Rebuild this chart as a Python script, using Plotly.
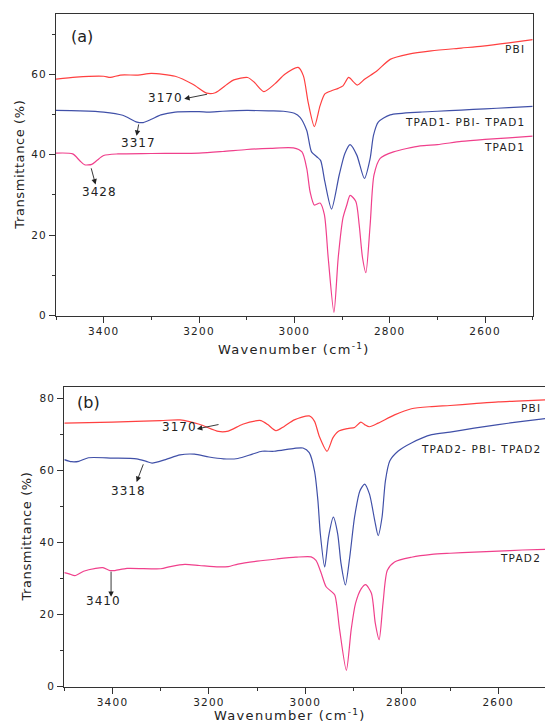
import plotly.graph_objects as go

# ---------------- data ----------------
# Panel (a)
a_pbi_wn = [3500, 3458, 3400, 3386, 3365, 3328, 3300, 3250, 3213, 3184, 3166, 3141, 3127, 3098, 3084, 3064, 3041, 3020, 2992, 2981, 2971, 2958, 2946, 2936, 2922, 2908, 2898, 2886, 2876, 2868, 2852, 2827, 2799, 2760, 2713, 2650, 2605, 2550, 2500]
a_pbi_t = [58.8, 59.3, 59.5, 59.2, 59.8, 59.8, 60.2, 59.5, 57.5, 55.3, 55.4, 57.5, 58.6, 59.2, 58.0, 55.7, 57.6, 60.0, 61.7, 59.6, 53.0, 47.0, 52.2, 55.1, 55.9, 56.5, 57.1, 59.2, 58.1, 57.3, 58.8, 60.8, 63.7, 65.0, 65.8, 66.5, 67.0, 67.8, 68.6]

a_tpb_wn = [3500, 3450, 3400, 3360, 3330, 3317, 3300, 3280, 3250, 3200, 3180, 3150, 3100, 3050, 3023, 3000, 2988, 2974, 2964, 2953, 2945, 2936, 2922, 2906, 2894, 2883, 2869, 2853, 2841, 2834, 2824, 2799, 2736, 2700, 2650, 2600, 2550, 2500]
a_tpb_t = [51.0, 50.9, 50.6, 49.8, 48.1, 48.0, 48.8, 49.9, 50.6, 50.7, 50.6, 50.8, 51.0, 50.9, 50.8, 50.3, 49.3, 46.0, 40.7, 39.5, 38.6, 33.3, 26.5, 34.9, 40.3, 42.5, 39.9, 34.1, 39.1, 44.8, 48.1, 49.9, 50.6, 50.8, 51.1, 51.4, 51.7, 52.0]

a_tpad_wn = [3500, 3465, 3450, 3440, 3425, 3415, 3400, 3370, 3300, 3200, 3150, 3100, 3050, 3002, 2984, 2974, 2967, 2958, 2946, 2937, 2929, 2917, 2908, 2898, 2890, 2883, 2871, 2864, 2857, 2850, 2841, 2833, 2820, 2792, 2736, 2700, 2650, 2600, 2550, 2500]
a_tpad_t = [40.4, 40.2, 38.5, 37.5, 37.6, 38.5, 39.8, 40.2, 40.3, 40.4, 40.8, 41.3, 41.6, 41.7, 40.7, 36.6, 30.8, 27.5, 28.0, 25.1, 14.4, 0.8, 14.4, 24.3, 27.5, 29.9, 28.4, 22.6, 14.4, 10.7, 22.6, 34.9, 39.1, 40.7, 42.2, 42.5, 43.3, 43.8, 44.2, 44.6]

# Panel (b)
b_pbi_wn = [3500, 3400, 3300, 3260, 3220, 3180, 3160, 3130, 3100, 3092, 3078, 3061, 3044, 3023, 2992, 2981, 2971, 2955, 2943, 2932, 2912, 2898, 2885, 2877, 2867, 2849, 2815, 2780, 2738, 2700, 2650, 2600, 2550, 2500]
b_pbi_t = [73.1, 73.4, 73.8, 74.0, 72.8, 70.8, 70.9, 72.8, 73.8, 73.8, 72.7, 71.0, 72.2, 74.0, 75.1, 73.6, 69.4, 65.3, 69.0, 70.8, 71.6, 71.9, 73.4, 72.7, 72.1, 73.1, 75.4, 77.1, 77.7, 78.0, 78.5, 79.0, 79.3, 79.6]

b_tpb_wn = [3500, 3485, 3470, 3450, 3400, 3350, 3330, 3318, 3290, 3260, 3230, 3200, 3170, 3140, 3110, 3090, 3065, 3023, 3005, 2992, 2981, 2974, 2969, 2960, 2952, 2942, 2933, 2926, 2917, 2908, 2898, 2887, 2877, 2867, 2856, 2849, 2841, 2834, 2825, 2808, 2780, 2738, 2700, 2650, 2600, 2550, 2500]
b_tpb_t = [63.0, 62.4, 62.5, 63.5, 63.4, 63.2, 62.5, 62.0, 63.0, 64.3, 64.5, 63.7, 63.2, 63.3, 64.5, 65.3, 65.3, 66.1, 66.2, 64.9, 59.8, 51.6, 42.4, 33.2, 41.5, 47.0, 42.4, 34.1, 28.2, 35.9, 47.0, 54.3, 56.2, 53.4, 46.0, 41.9, 47.0, 57.1, 62.6, 65.3, 67.6, 69.9, 70.6, 71.7, 72.7, 73.6, 74.4]

b_tpad_wn = [3500, 3490, 3478, 3460, 3435, 3420, 3405, 3395, 3370, 3300, 3280, 3250, 3220, 3180, 3160, 3140, 3100, 3060, 3020, 2988, 2978, 2968, 2957, 2947, 2939, 2929, 2915, 2905, 2896, 2884, 2875, 2863, 2855, 2847, 2839, 2830, 2815, 2780, 2738, 2700, 2650, 2600, 2550, 2500]
b_tpad_t = [31.6, 31.3, 30.8, 32.0, 32.8, 33.0, 32.2, 32.2, 32.8, 32.7, 33.3, 33.9, 33.6, 33.2, 33.3, 34.0, 34.8, 35.4, 35.9, 36.0, 35.0, 31.8, 27.7, 26.5, 25.4, 15.8, 4.5, 15.8, 23.1, 27.2, 28.3, 25.9, 17.6, 13.0, 23.1, 32.3, 34.6, 35.9, 36.7, 37.0, 37.3, 37.6, 37.9, 38.1]

series_names_a = ["PBI", "TPAD1- PBI- TPAD1", "TPAD1"]
series_names_b = ["PBI", "TPAD2- PBI- TPAD2", "TPAD2"]

x_tickvals = [3400, 3200, 3000, 2800, 2600]
a_y_tickvals = [0, 20, 40, 60]
b_y_tickvals = [0, 20, 40, 60, 80]

# peak labels: (text, label x, label y, arrow head x, head y, tail x, tail y)
a_peaks = [("3170", 3270, 54.1, 3231, 53.9, 3180, 55.1),
           ("3317", 3327, 43.0, 3331, 44.7, 3326, 47.9),
           ("3428", 3408, 30.7, 3417, 32.6, 3427, 37.0)]
b_peaks = [("3170", 3262, 72.0, 3225, 71.5, 3177, 72.8),
           ("3318", 3366, 54.4, 3350, 56.8, 3335, 62.1),
           ("3410", 3419, 23.7, 3403, 24.9, 3403, 32.3)]

# ---------------- style ----------------
RED = "#ff4040"
BLUE = "#4050a8"
PINK = "#f0408c"
AX = "#333333"
FONT = "DejaVu Sans"
W, H = 545, 728


def sp(t, ls=1.2):
    return f'<span style="letter-spacing:{ls}px">{t}</span>'


fig = go.Figure()
for wn, t, c in [(a_pbi_wn, a_pbi_t, RED), (a_tpb_wn, a_tpb_t, BLUE), (a_tpad_wn, a_tpad_t, PINK)]:
    fig.add_trace(go.Scatter(x=wn, y=t, mode="lines", line=dict(color=c, width=1.2, shape="spline", smoothing=0.7),
                             xaxis="x", yaxis="y", showlegend=False, hoverinfo="skip"))
for wn, t, c in [(b_pbi_wn, b_pbi_t, RED), (b_tpb_wn, b_tpb_t, BLUE), (b_tpad_wn, b_tpad_t, PINK)]:
    fig.add_trace(go.Scatter(x=wn, y=t, mode="lines", line=dict(color=c, width=1.2, shape="spline", smoothing=0.7),
                             xaxis="x2", yaxis="y2", showlegend=False, hoverinfo="skip"))

# plot-area pixel boxes
a_l, a_r, a_t, a_b = 56, 532.7, 14, 318.3
b_l, b_r, b_t, b_b = 64.3, 545, 390.7, 692.3

tickfont = dict(family=FONT, size=10.5, color="#222")
common_x = dict(showgrid=False, zeroline=False, showline=True, linecolor=AX, linewidth=1,
                ticks="outside", ticklen=6, tickcolor=AX, tickwidth=1, tickfont=tickfont,
                tickvals=x_tickvals, ticktext=[sp(str(v)) for v in x_tickvals],
                minor=dict(dtick=100, tick0=2500, ticks="outside", ticklen=3, tickcolor=AX))
common_y = dict(showgrid=False, zeroline=False, showline=True, linecolor=AX, linewidth=1,
                ticks="outside", ticklen=6, tickcolor=AX, tickwidth=1, tickfont=tickfont,
                minor=dict(dtick=10, tick0=0, ticks="outside", ticklen=3, tickcolor=AX))

fig.update_layout(
    width=W, height=H, margin=dict(l=0, r=0, t=0, b=0),
    paper_bgcolor="white", plot_bgcolor="white",
    xaxis=dict(common_x, domain=[a_l / W, a_r / W], range=[3500, 2500], anchor="y", mirror=True),
    yaxis=dict(common_y, domain=[1 - a_b / H, 1 - a_t / H], range=[0, 75], anchor="x", mirror=True,
               tickvals=a_y_tickvals, ticktext=[sp(str(v)) for v in a_y_tickvals]),
    xaxis2=dict(common_x, domain=[b_l / W, 1.0], range=[3500, 2503], anchor="y2", mirror=True),
    yaxis2=dict(common_y, domain=[1 - b_b / H, 1 - b_t / H], range=[0, 83], anchor="x2", mirror=False,
                tickvals=b_y_tickvals, ticktext=[sp(str(v)) for v in b_y_tickvals]),
)

ann = []
lab_font = dict(family=FONT, size=10.5, color="#222")
# panel letters
ann.append(dict(x=3446, y=69.4, xref="x", yref="y", text="(a)", showarrow=False,
                xanchor="center", yanchor="middle", font=dict(family=FONT, size=16, color="#222")))
ann.append(dict(x=3449, y=78.8, xref="x2", yref="y2", text="(b)", showarrow=False,
                xanchor="center", yanchor="middle", font=dict(family=FONT, size=16, color="#222")))
# series labels
for name, y in zip(series_names_a, [66.2, 48.2, 42.0]):
    ann.append(dict(x=2512, y=y, xref="x", yref="y", text=sp(name), showarrow=False,
                    xanchor="right", yanchor="middle", font=lab_font))
for name, y in zip(series_names_b, [77.2, 65.9, 35.6]):
    ann.append(dict(x=2507, y=y, xref="x2", yref="y2", text=sp(name), showarrow=False,
                    xanchor="right", yanchor="middle", font=lab_font))
# peak labels + arrows
for (xr, yr), peaks in [(("x", "y"), a_peaks), (("x2", "y2"), b_peaks)]:
    for txt, lx, ly, hx, hy, tx, ty in peaks:
        ann.append(dict(x=lx, y=ly, xref=xr, yref=yr, text=sp(txt, 1.0), showarrow=False,
                        xanchor="center", yanchor="middle", font=dict(family=FONT, size=12, color="#222")))
        ann.append(dict(x=hx, y=hy, xref=xr, yref=yr, ax=tx, ay=ty, axref=xr, ayref=yr, text="",
                        showarrow=True, arrowhead=2, arrowsize=1.2, arrowwidth=0.9, arrowcolor="#222"))

# axis titles
title_font = dict(family=FONT, size=13, color="#222")
xt = 'Wavenumber (cm<sup>-1</sup>)'
ann.append(dict(x=(a_l + a_r) / 2 / W, y=1 - 352 / H, xref="paper", yref="paper", text=sp(xt, 1.3),
                xanchor="center", yanchor="middle", showarrow=False, font=title_font))
ann.append(dict(x=290 / W, y=1 - 721 / H, xref="paper", yref="paper", text=sp(xt, 1.3),
                xanchor="center", yanchor="middle", showarrow=False, font=title_font))
ann.append(dict(x=20 / W, y=1 - 166 / H, xref="paper", yref="paper", text=sp("Transmittance (%)", 0.6),
                xanchor="center", yanchor="middle", textangle=-90, showarrow=False, font=title_font))
ann.append(dict(x=27 / W, y=1 - 541 / H, xref="paper", yref="paper", text=sp("Transmittance (%)", 0.6),
                xanchor="center", yanchor="middle", textangle=-90, showarrow=False, font=title_font))
fig.update_layout(annotations=ann)

fig.write_html("out.html")
